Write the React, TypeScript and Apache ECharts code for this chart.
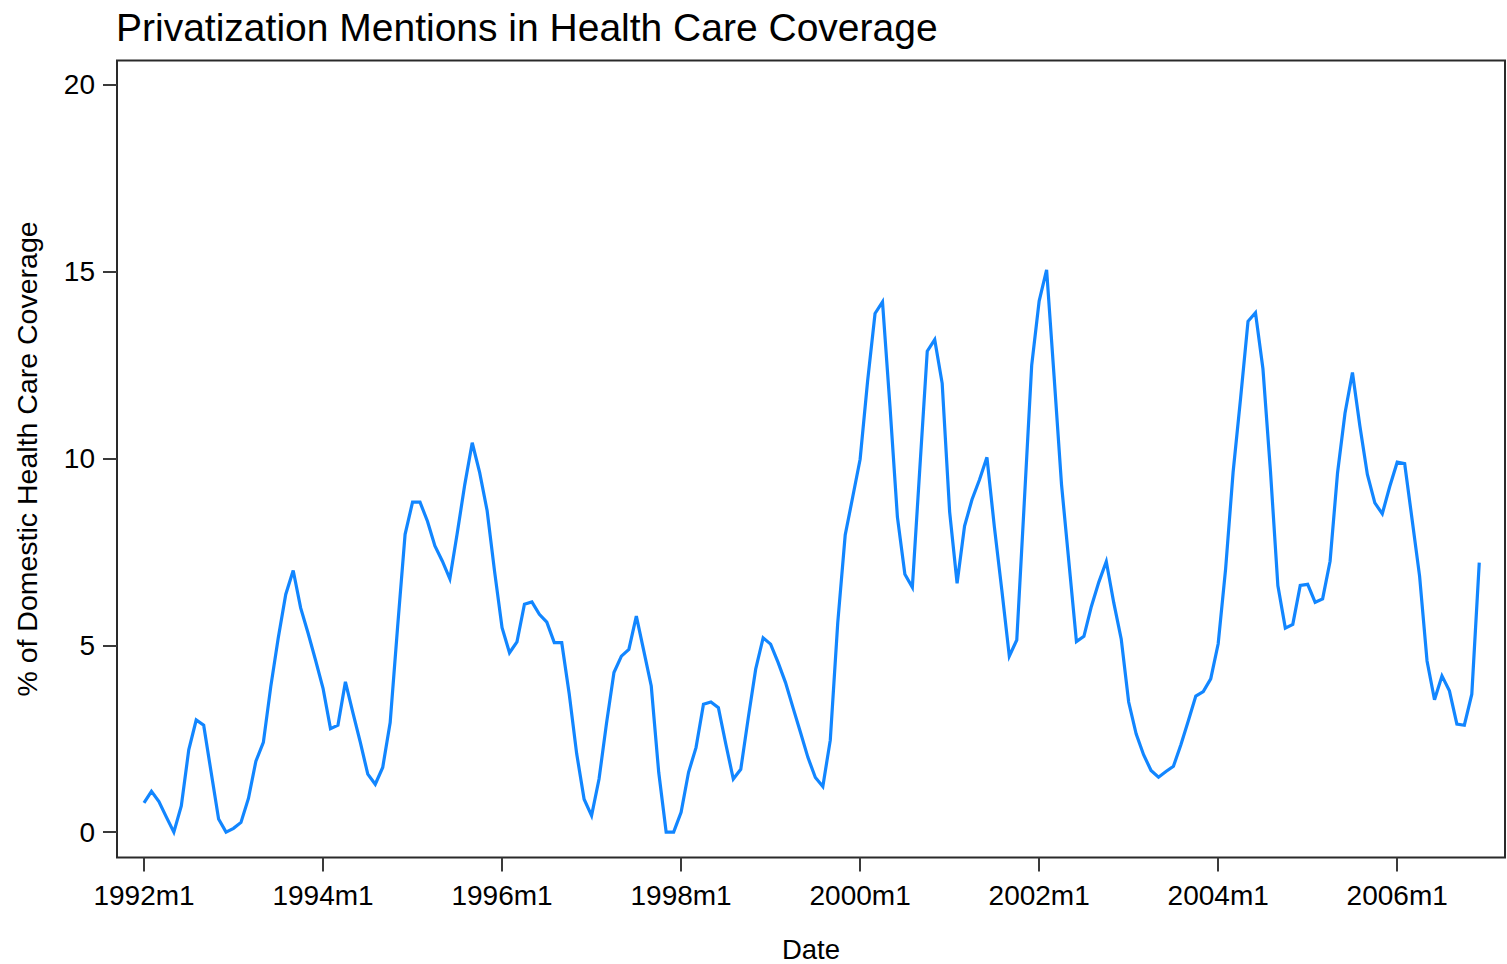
import React, { useEffect, useRef } from 'react';
import * as echarts from 'echarts';

// Monthly series, 1992m1 .. 2006m12 (index 0 = 1992m1)
const values: number[] = [
  // 1992
  0.78, 1.09, 0.82, 0.4, 0.0, 0.7, 2.2, 3.0, 2.86, 1.6, 0.35, 0.0,
  // 1993
  0.1, 0.26, 0.9, 1.9, 2.4, 3.9, 5.2, 6.36, 7.0, 6.0, 5.32, 4.6,
  // 1994
  3.85, 2.77, 2.86, 4.02, 3.2, 2.4, 1.55, 1.28, 1.73, 2.93, 5.5, 7.97,
  // 1995
  8.83, 8.83, 8.32, 7.66, 7.25, 6.78, 8.01, 9.3, 10.42, 9.62, 8.6, 6.97,
  // 1996
  5.47, 4.8, 5.09, 6.1, 6.16, 5.83, 5.62, 5.07, 5.07, 3.7, 2.1, 0.88,
  // 1997
  0.44, 1.42, 2.91, 4.27, 4.71, 4.89, 5.78, 4.85, 3.91, 1.6, 0.0, 0.0,
  // 1998
  0.53, 1.6, 2.26, 3.42, 3.48, 3.33, 2.35, 1.42, 1.68, 3.05, 4.36, 5.2,
  // 1999
  5.03, 4.54, 4.0, 3.33, 2.67, 2.0, 1.46, 1.22, 2.46, 5.6, 7.95, 8.96,
  // 2000
  9.98, 12.06, 13.88, 14.19, 11.4, 8.43, 6.9, 6.55, 9.72, 12.87, 13.18, 12.01,
  // 2001
  8.57, 6.66, 8.19, 8.9, 9.43, 10.03, 8.16, 6.47, 4.71, 5.14, 8.8, 12.49,
  // 2002
  14.21, 15.05, 12.2, 9.3, 7.2, 5.1, 5.24, 6.04, 6.69, 7.24, 6.14, 5.17,
  // 2003
  3.48, 2.63, 2.07, 1.65, 1.47, 1.62, 1.76, 2.34, 2.98, 3.64, 3.76, 4.1,
  // 2004
  5.04, 7.05, 9.63, 11.6, 13.67, 13.9, 12.4, 9.69, 6.6, 5.46, 5.56, 6.6,
  // 2005
  6.63, 6.15, 6.24, 7.25, 9.61, 11.21, 12.3, 10.86, 9.57, 8.81, 8.52, 9.25,
  // 2006
  9.9, 9.86, 8.36, 6.85, 4.58, 3.54, 4.18, 3.78, 2.89, 2.86, 3.69, 7.21,
];

const xTickMonths: number[] = [0, 24, 48, 72, 96, 120, 144, 168];
const xTickLabels: string[] = ['1992m1', '1994m1', '1996m1', '1998m1', '2000m1', '2002m1', '2004m1', '2006m1'];
const yTicks: number[] = [0, 5, 10, 15, 20];

const TITLE = 'Privatization Mentions in Health Care Coverage';
const X_NAME = 'Date';
const Y_NAME = '% of Domestic Health Care Coverage';

const FONT = "'Liberation Sans', Arial, Helvetica, sans-serif";

export default function App() {
  const ref = useRef<HTMLDivElement>(null);

  useEffect(() => {
    document.body.style.margin = '0';
    const chart = echarts.init(ref.current as HTMLDivElement, null, { renderer: 'svg' });
    const data = values.map((v, i) => [i, v]);
    const tickLabelMap: Record<number, string> = {};
    xTickMonths.forEach((m, k) => {
      tickLabelMap[m] = xTickLabels[k];
    });

    chart.setOption({
      animation: false,
      backgroundColor: '#ffffff',
      textStyle: { fontFamily: FONT },
      title: {
        text: TITLE,
        left: 116,
        top: 8,
        padding: 0,
        textStyle: { fontFamily: FONT, fontSize: 39, fontWeight: 'normal', color: '#000' },
      },
      grid: {
        left: 117,
        right: 2,
        top: 60.5,
        bottom: 106.5,
        containLabel: false,
        outerBoundsMode: 'none',
        show: true,
        borderColor: '#2a2a2a',
        borderWidth: 2,
        backgroundColor: '#ffffff',
      },
      xAxis: {
        type: 'value',
        min: -3.62,
        max: 182.45,
        name: X_NAME,
        nameLocation: 'middle',
        nameGap: 81,
        nameTextStyle: { fontFamily: FONT, fontSize: 27.5, lineHeight: 22, color: '#000' },
        axisLine: { show: false, onZero: false },
        splitLine: { show: false },
        axisTick: {
          show: true,
          length: 14,
          customValues: xTickMonths,
          lineStyle: { color: '#3a3a3a', width: 2 },
        },
        axisLabel: {
          show: true,
          margin: 24,
          customValues: xTickMonths,
          fontFamily: FONT,
          fontSize: 28,
          color: '#000',
          formatter: (v: number) => tickLabelMap[Math.round(v)] ?? '',
        },
      },
      yAxis: {
        type: 'value',
        min: -0.68,
        max: 20.65,
        name: Y_NAME,
        nameLocation: 'middle',
        nameRotate: 90,
        nameGap: 76,
        nameTextStyle: { fontFamily: FONT, fontSize: 28.5, color: '#000' },
        axisLine: { show: false, onZero: false },
        splitLine: { show: false },
        axisTick: {
          show: true,
          length: 14,
          customValues: yTicks,
          lineStyle: { color: '#3a3a3a', width: 2 },
        },
        axisLabel: {
          show: true,
          margin: 22,
          customValues: yTicks,
          fontFamily: FONT,
          fontSize: 28,
          color: '#000',
          formatter: (v: number) => String(Math.round(v)),
        },
      },
      series: [
        {
          type: 'line',
          data,
          showSymbol: false,
          symbol: 'none',
          lineStyle: { color: '#1286ff', width: 3.2, join: 'miter' },
          itemStyle: { color: '#1286ff' },
        },
      ],
    });

    return () => chart.dispose();
  }, []);

  return <div ref={ref} style={{ width: 1507, height: 964 }} />;
}
